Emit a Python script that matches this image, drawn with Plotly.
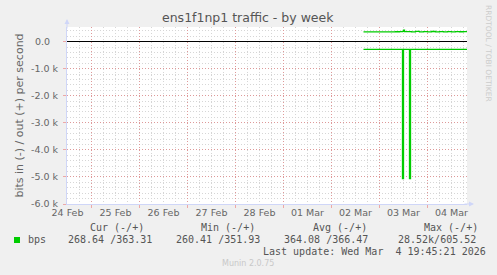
import plotly.graph_objects as go

# ---------------- data ----------------
out_times = ["2026-03-02 16:00", "2026-03-02 18:00", "2026-03-02 20:00", "2026-03-02 22:00",
             "2026-03-03 00:00", "2026-03-03 02:00", "2026-03-03 04:00", "2026-03-03 06:00",
             "2026-03-03 08:00", "2026-03-03 10:00", "2026-03-03 11:30", "2026-03-03 12:00",
             "2026-03-03 12:30", "2026-03-03 14:00", "2026-03-03 16:00", "2026-03-03 18:00",
             "2026-03-03 20:00", "2026-03-03 22:00", "2026-03-04 00:00", "2026-03-04 02:00",
             "2026-03-04 04:00", "2026-03-04 06:00", "2026-03-04 08:00", "2026-03-04 10:00",
             "2026-03-04 12:00", "2026-03-04 14:00", "2026-03-04 16:00", "2026-03-04 18:00",
             "2026-03-04 19:45"]
out_bps = [362, 360, 358, 361, 363, 359, 360, 362, 364, 368, 380, 420, 372, 368, 362, 376,
           360, 372, 361, 374, 360, 366, 362, 370, 361, 372, 364, 368, 363]

in_times = ["2026-03-02 16:00", "2026-03-02 20:00", "2026-03-03 00:00", "2026-03-03 04:00",
            "2026-03-03 08:00", "2026-03-03 11:30", "2026-03-03 12:00", "2026-03-03 15:00",
            "2026-03-03 15:30", "2026-03-03 20:00", "2026-03-04 00:00", "2026-03-04 06:00",
            "2026-03-04 12:00", "2026-03-04 19:45"]
in_bps = [-285, -284, -286, -285, -287, -5060, -286, -5060, -285, -284, -286, -285, -284, -285]

day_marks = ["2026-02-25", "2026-02-26", "2026-02-27", "2026-02-28",
             "2026-03-01", "2026-03-02", "2026-03-03", "2026-03-04"]
label_pos = ["2026-02-24 12:00", "2026-02-25 12:00", "2026-02-26 12:00", "2026-02-27 12:00",
             "2026-02-28 12:00", "2026-03-01 12:00", "2026-03-02 12:00", "2026-03-03 12:00",
             "2026-03-04 12:00"]
day_labels = ["24 Feb", "25 Feb", "26 Feb", "27 Feb", "28 Feb", "01 Mar", "02 Mar", "03 Mar", "04 Mar"]

y_vals = [0, -1000, -2000, -3000, -4000, -5000, -6000]
y_text = ["0.0\u2007\u2009", "-1.0 k", "-2.0 k", "-3.0 k", "-4.0 k", "-5.0 k", "-6.0 k"]

x_range = ["2026-02-24 11:45", "2026-03-04 19:45"]
y_range = [-6000, 540]

legend_headers = ["Cur (-/+)", "Min (-/+)", "Avg (-/+)", "Max (-/+)"]
legend_values = ["268.64 /363.31", "260.41 /351.93", "364.08 /366.47", "28.52k/605.52"]
legend_name = "bps"
last_update = "Last update: Wed Mar\u00a0 4 19:45:21 2026"
title_text = "ens1f1np1 traffic - by week"

# ---------------- styling ----------------
GREEN = "#00CC00"
FONT = "#666666"
AXIS = "#CFD6F8"
GRID = "#d6d6d6"
MGRID = "rgba(232,80,80,0.45)"
W, H = 497, 275
L, R, T, B = 67, 30, 27, 71
PW, PH = W - L - R, H - T - B


def px(x):
    return (x - L) / PW


def py(y):
    return (H - B - y) / PH


fig = go.Figure()
fig.add_trace(go.Scatter(x=out_times, y=out_bps, mode="lines", line=dict(color=GREEN, width=1.3, shape="hv"),
                         hoverinfo="skip", showlegend=False))
fig.add_trace(go.Scatter(x=in_times, y=in_bps, mode="lines", line=dict(color=GREEN, width=1.3, shape="hv"),
                         hoverinfo="skip", showlegend=False))
fig.add_trace(go.Scatter(x=label_pos, y=[None] * len(label_pos), xaxis="x2", mode="lines",
                         hoverinfo="skip", showlegend=False))

fig.update_layout(
    width=W, height=H,
    margin=dict(l=L, r=R, t=T, b=B, pad=0),
    paper_bgcolor="#F0F0F0", plot_bgcolor="#FFFFFF",
    font=dict(family="DejaVu Sans", size=9.5, color=FONT),
    xaxis=dict(type="date", range=x_range, tickmode="array", tickvals=day_marks,
               showticklabels=False, ticks="outside", ticklen=3, tickcolor=MGRID,
               showgrid=True, gridcolor=MGRID, griddash="1px,2px", gridwidth=1,
               minor=dict(dtick=6 * 3600 * 1000, tick0="2026-02-24", showgrid=True,
                          gridcolor=GRID, griddash="1px,2px", gridwidth=1),
               showline=True, linecolor=AXIS, linewidth=1, zeroline=False, fixedrange=True),
    xaxis2=dict(type="date", range=x_range, overlaying="x", anchor="y", side="bottom",
                tickmode="array", tickvals=label_pos, ticktext=day_labels,
                showgrid=False, ticks="", tickfont=dict(size=9.5, color=FONT), ticklabelstandoff=1,
                zeroline=False, showline=False),
    yaxis=dict(range=y_range, tickmode="array", tickvals=y_vals, ticktext=y_text,
               ticks="outside", ticklen=3, tickcolor=MGRID,
               showgrid=True, gridcolor=MGRID, griddash="1px,2px", gridwidth=1,
               minor=dict(dtick=200, tick0=0, showgrid=True, gridcolor=GRID, griddash="1px,2px", gridwidth=1),
               zeroline=True, zerolinecolor="#000000", zerolinewidth=1,
               showline=True, linecolor=AXIS, linewidth=1, ticklabelstandoff=3,
               tickfont=dict(size=9.5, color=FONT),
               title=dict(text="bits in (-) / out (+) per second", font=dict(size=11, color=FONT), standoff=5),
               fixedrange=True),
    showlegend=False,
)

ann = []
ann.append(dict(text=title_text, x=px(248), y=py(18), xref="paper", yref="paper", showarrow=False,
                font=dict(size=12.5, color="#555555"), xanchor="center", yanchor="middle"))
ann.append(dict(text="RRDTOOL / TOBI OETIKER", x=px(489), y=py(53), xref="paper", yref="paper", showarrow=False,
                font=dict(size=7.5, color="#cccccc"), textangle=90, xanchor="center", yanchor="middle"))
# axis arrows
ann.append(dict(text="", x=px(L), y=py(19), xref="paper", yref="paper", showarrow=True, ax=0, ay=10,
                arrowhead=2, arrowsize=1, arrowwidth=1, arrowcolor=AXIS))
ann.append(dict(text="", x=px(474), y=py(H - B), xref="paper", yref="paper", showarrow=True, ax=-10, ay=0,
                arrowhead=2, arrowsize=1, arrowwidth=1, arrowcolor=AXIS))

MONO = dict(family="DejaVu Sans Mono", size=10, color="#555555")
for txt, xl in zip(legend_headers, [89.3, 200.3, 311.7, 422.7]):
    ann.append(dict(text=txt, x=px(xl), y=py(227.3), xref="paper", yref="paper", showarrow=False,
                    font=MONO, xanchor="left", yanchor="middle"))
ann.append(dict(text=legend_name, x=px(26.7), y=py(239.7), xref="paper", yref="paper", showarrow=False,
                font=MONO, xanchor="left", yanchor="middle"))
for txt, xl in zip(legend_values, [66.7, 175, 283, 397]):
    ann.append(dict(text=txt, x=px(xl), y=py(239.7), xref="paper", yref="paper", showarrow=False,
                    font=MONO, xanchor="left", yanchor="middle"))
ann.append(dict(text=last_update, x=px(261.7), y=py(251.7), xref="paper", yref="paper", showarrow=False,
                font=MONO, xanchor="left", yanchor="middle"))
ann.append(dict(text="Munin 2.0.75", x=px(248), y=py(263.3), xref="paper", yref="paper", showarrow=False,
                font=dict(family="DejaVu Sans", size=8, color="#c8c8c8"), xanchor="center", yanchor="middle"))
for a in ann:
    a.setdefault("borderpad", 0)
fig.update_layout(annotations=ann)

fig.add_shape(type="rect", xref="paper", yref="paper", x0=px(14), x1=px(20), y0=py(243), y1=py(237),
              fillcolor=GREEN, line=dict(width=0))

fig.write_html("out.html", config={"displayModeBar": False})
